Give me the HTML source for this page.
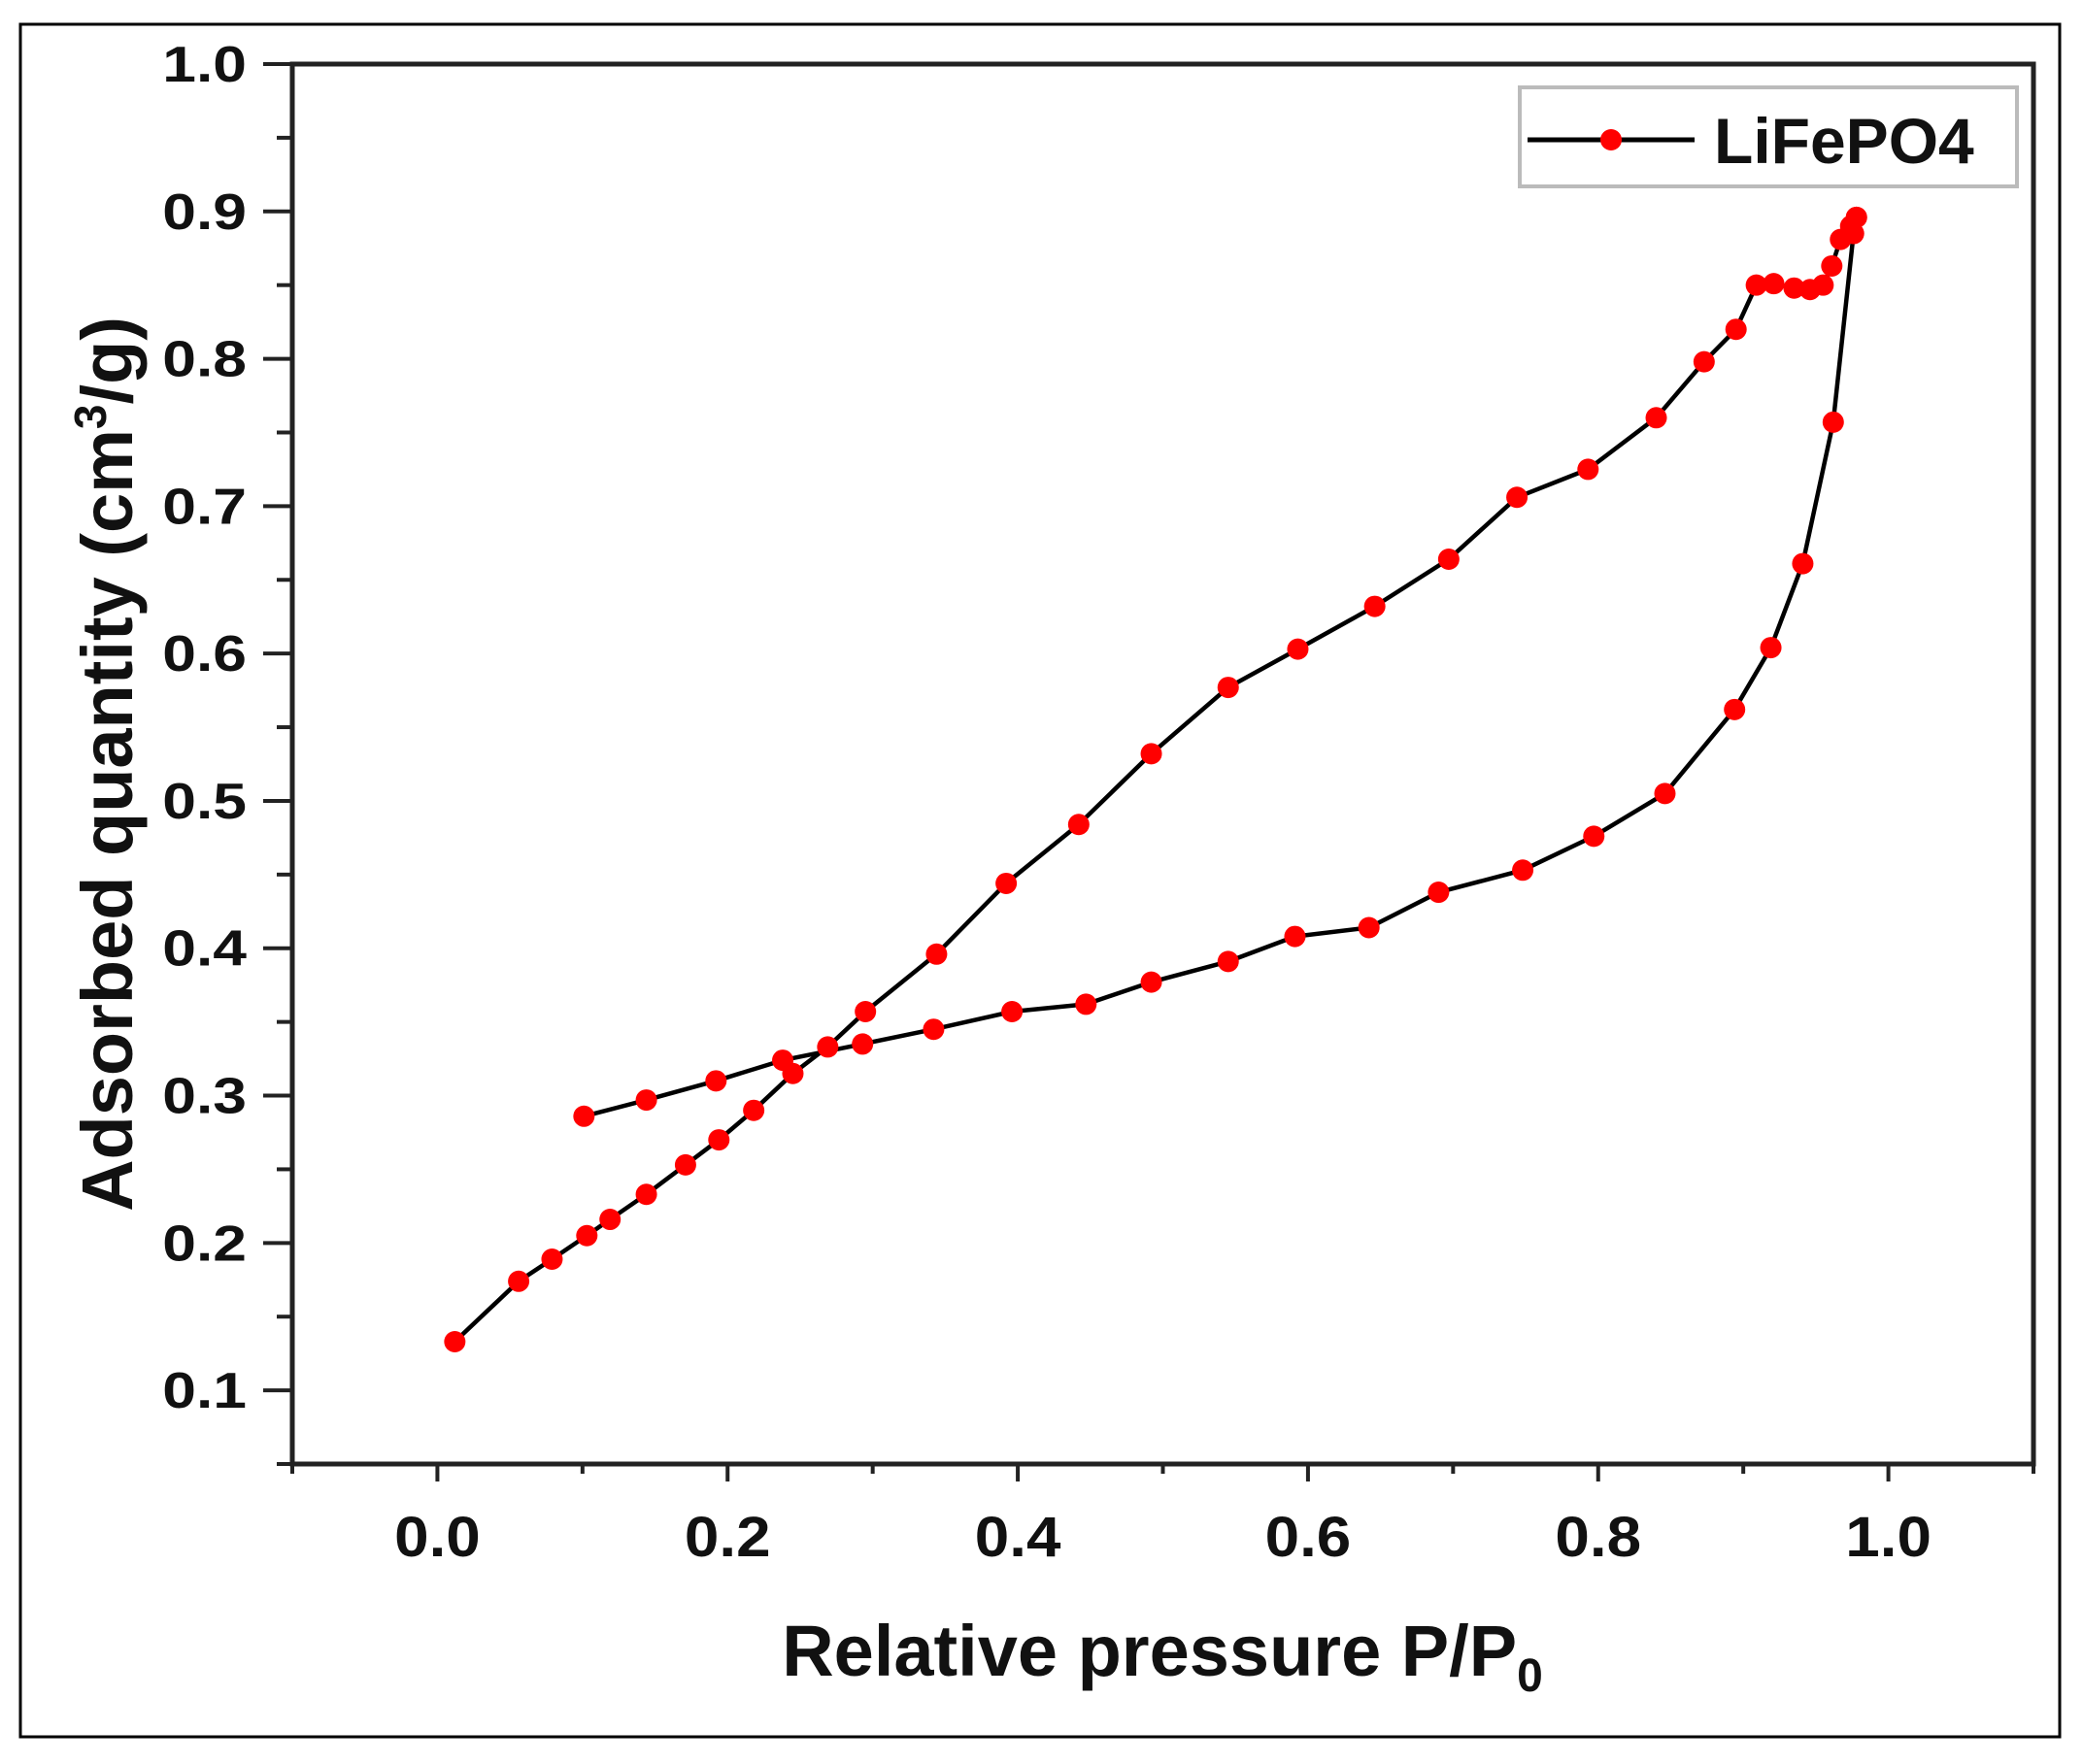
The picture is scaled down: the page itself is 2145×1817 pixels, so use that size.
<!DOCTYPE html>
<html><head><meta charset="utf-8"><style>
html,body{margin:0;padding:0;background:#fff;}
svg{display:block;font-family:"Liberation Sans",Arial,sans-serif;}
</style></head><body>
<svg id="chart" width="2145" height="1817" viewBox="0 0 2145 1817">
<rect x="21" y="25" width="2100" height="1764" fill="none" stroke="#000" stroke-width="3"/>
<g id="axes"></g>
<g id="series"></g>
<text x="1197" y="1726" font-size="74" font-weight="bold" text-anchor="middle" fill="#111">Relative pressure P/P<tspan font-size="48" dy="16">0</tspan></text>
<text transform="translate(136,787) rotate(-90)" font-size="74" font-weight="bold" text-anchor="middle" fill="#111">Adsorbed quantity (cm<tspan font-size="46" dy="-27">3</tspan><tspan dy="27">/g)</tspan></text>
<g>
<rect x="1565" y="90" width="512" height="102" fill="#fff" stroke="#bbb" stroke-width="4"/>
<line x1="1573" y1="144" x2="1745" y2="144" stroke="#000" stroke-width="5"/>
<circle cx="1659" cy="144" r="11" fill="#f00"/>
<text x="1765" y="168" font-size="66" font-weight="bold" fill="#111">LiFePO4</text>
</g>
</svg>
<script>
const adsX=[0.012,0.056,0.079,0.103,0.119,0.144,0.171,0.194,0.218,0.245,0.269,0.295,0.344,0.392,0.442,0.492,0.545,0.593,0.646,0.697,0.744,0.793,0.840,0.873,0.895,0.909,0.921,0.935,0.946,0.955,0.961,0.967,0.974,0.978];
const adsY=[0.133,0.174,0.189,0.205,0.216,0.233,0.253,0.270,0.290,0.315,0.333,0.357,0.396,0.444,0.484,0.532,0.577,0.603,0.632,0.664,0.706,0.725,0.760,0.798,0.820,0.850,0.851,0.848,0.847,0.850,0.863,0.881,0.890,0.896];
const desX=[0.978,0.976,0.962,0.941,0.919,0.894,0.846,0.797,0.748,0.690,0.642,0.591,0.545,0.492,0.447,0.396,0.342,0.293,0.238,0.192,0.144,0.101];
const desY=[0.896,0.885,0.757,0.661,0.604,0.562,0.505,0.476,0.453,0.438,0.414,0.408,0.391,0.377,0.362,0.357,0.345,0.335,0.324,0.310,0.297,0.286];
const xTicks=["0.0","0.2","0.4","0.6","0.8","1.0"];
const yTicks=["0.1","0.2","0.3","0.4","0.5","0.6","0.7","0.8","0.9","1.0"];
const NS="http://www.w3.org/2000/svg";
const X0=-0.1,X1=1.1,Y0=0.05,Y1=1.0;
const L=301,R=2094,T=66,B=1508;
function sx(v){return L+(v-X0)/(X1-X0)*(R-L);}
function sy(v){return B-(v-Y0)/(Y1-Y0)*(B-T);}
function mk(tag,attrs,parent){const e=document.createElementNS(NS,tag);for(const k in attrs)e.setAttribute(k,attrs[k]);parent.appendChild(e);return e;}
const axes=document.getElementById('axes');
const frame=mk('rect',{x:L,y:T,width:R-L,height:B-T,fill:'none',stroke:'#222','stroke-width':5},axes);


for(let i=0;i<=12;i++){
  const v=X0+i*0.1;const x=sx(v);const major=(i%2===1);
  const t=mk('line',{x1:x,y1:B,x2:x,y2:B+(major?18:10),stroke:'#222','stroke-width':4},axes);
  
  
}
xTicks.forEach(s=>{
  const x=sx(parseFloat(s));
  const t=mk('text',{x:0,y:0,transform:'translate('+x+',1603) scale(1.1,1)','font-size':58,'font-weight':'bold','text-anchor':'middle',fill:'#111'},axes);
  t.textContent=s;
  
  
});
for(let i=0;i<=19;i++){
  const v=Y0+i*0.05;const y=sy(v);const major=(i%2===1);
  const t=mk('line',{x1:L,y1:y,x2:L-(major?30:16),y2:y,stroke:'#222','stroke-width':4},axes);
  
  
}
yTicks.forEach(s=>{
  const y=sy(parseFloat(s))+18;
  const t=mk('text',{x:0,y:0,transform:'translate(254,'+y+') scale(1.2,1)','font-size':52,'font-weight':'bold','text-anchor':'end',fill:'#111'},axes);
  t.textContent=s;
  
  
});
const series=document.getElementById('series');
function drawBranch(xs,ys,name){
  const pts=xs.map((x,i)=>sx(x).toFixed(1)+','+sy(ys[i]).toFixed(1)).join(' ');
  const pl=mk('polyline',{points:pts,fill:'none',stroke:'#000','stroke-width':4.5,'stroke-linejoin':'round'},series);
  
  
}
drawBranch(adsX,adsY,'adsorption');
drawBranch(desX,desY,'desorption');
function drawPts(xs,ys,name){
  xs.forEach((x,i)=>{
    const c=mk('circle',{cx:sx(x),cy:sy(ys[i]),r:11,fill:'#f00'},series);
    
    
  });
}
drawPts(adsX,adsY,'adsorption');
drawPts(desX,desY,'desorption');
</script>
</body></html>
